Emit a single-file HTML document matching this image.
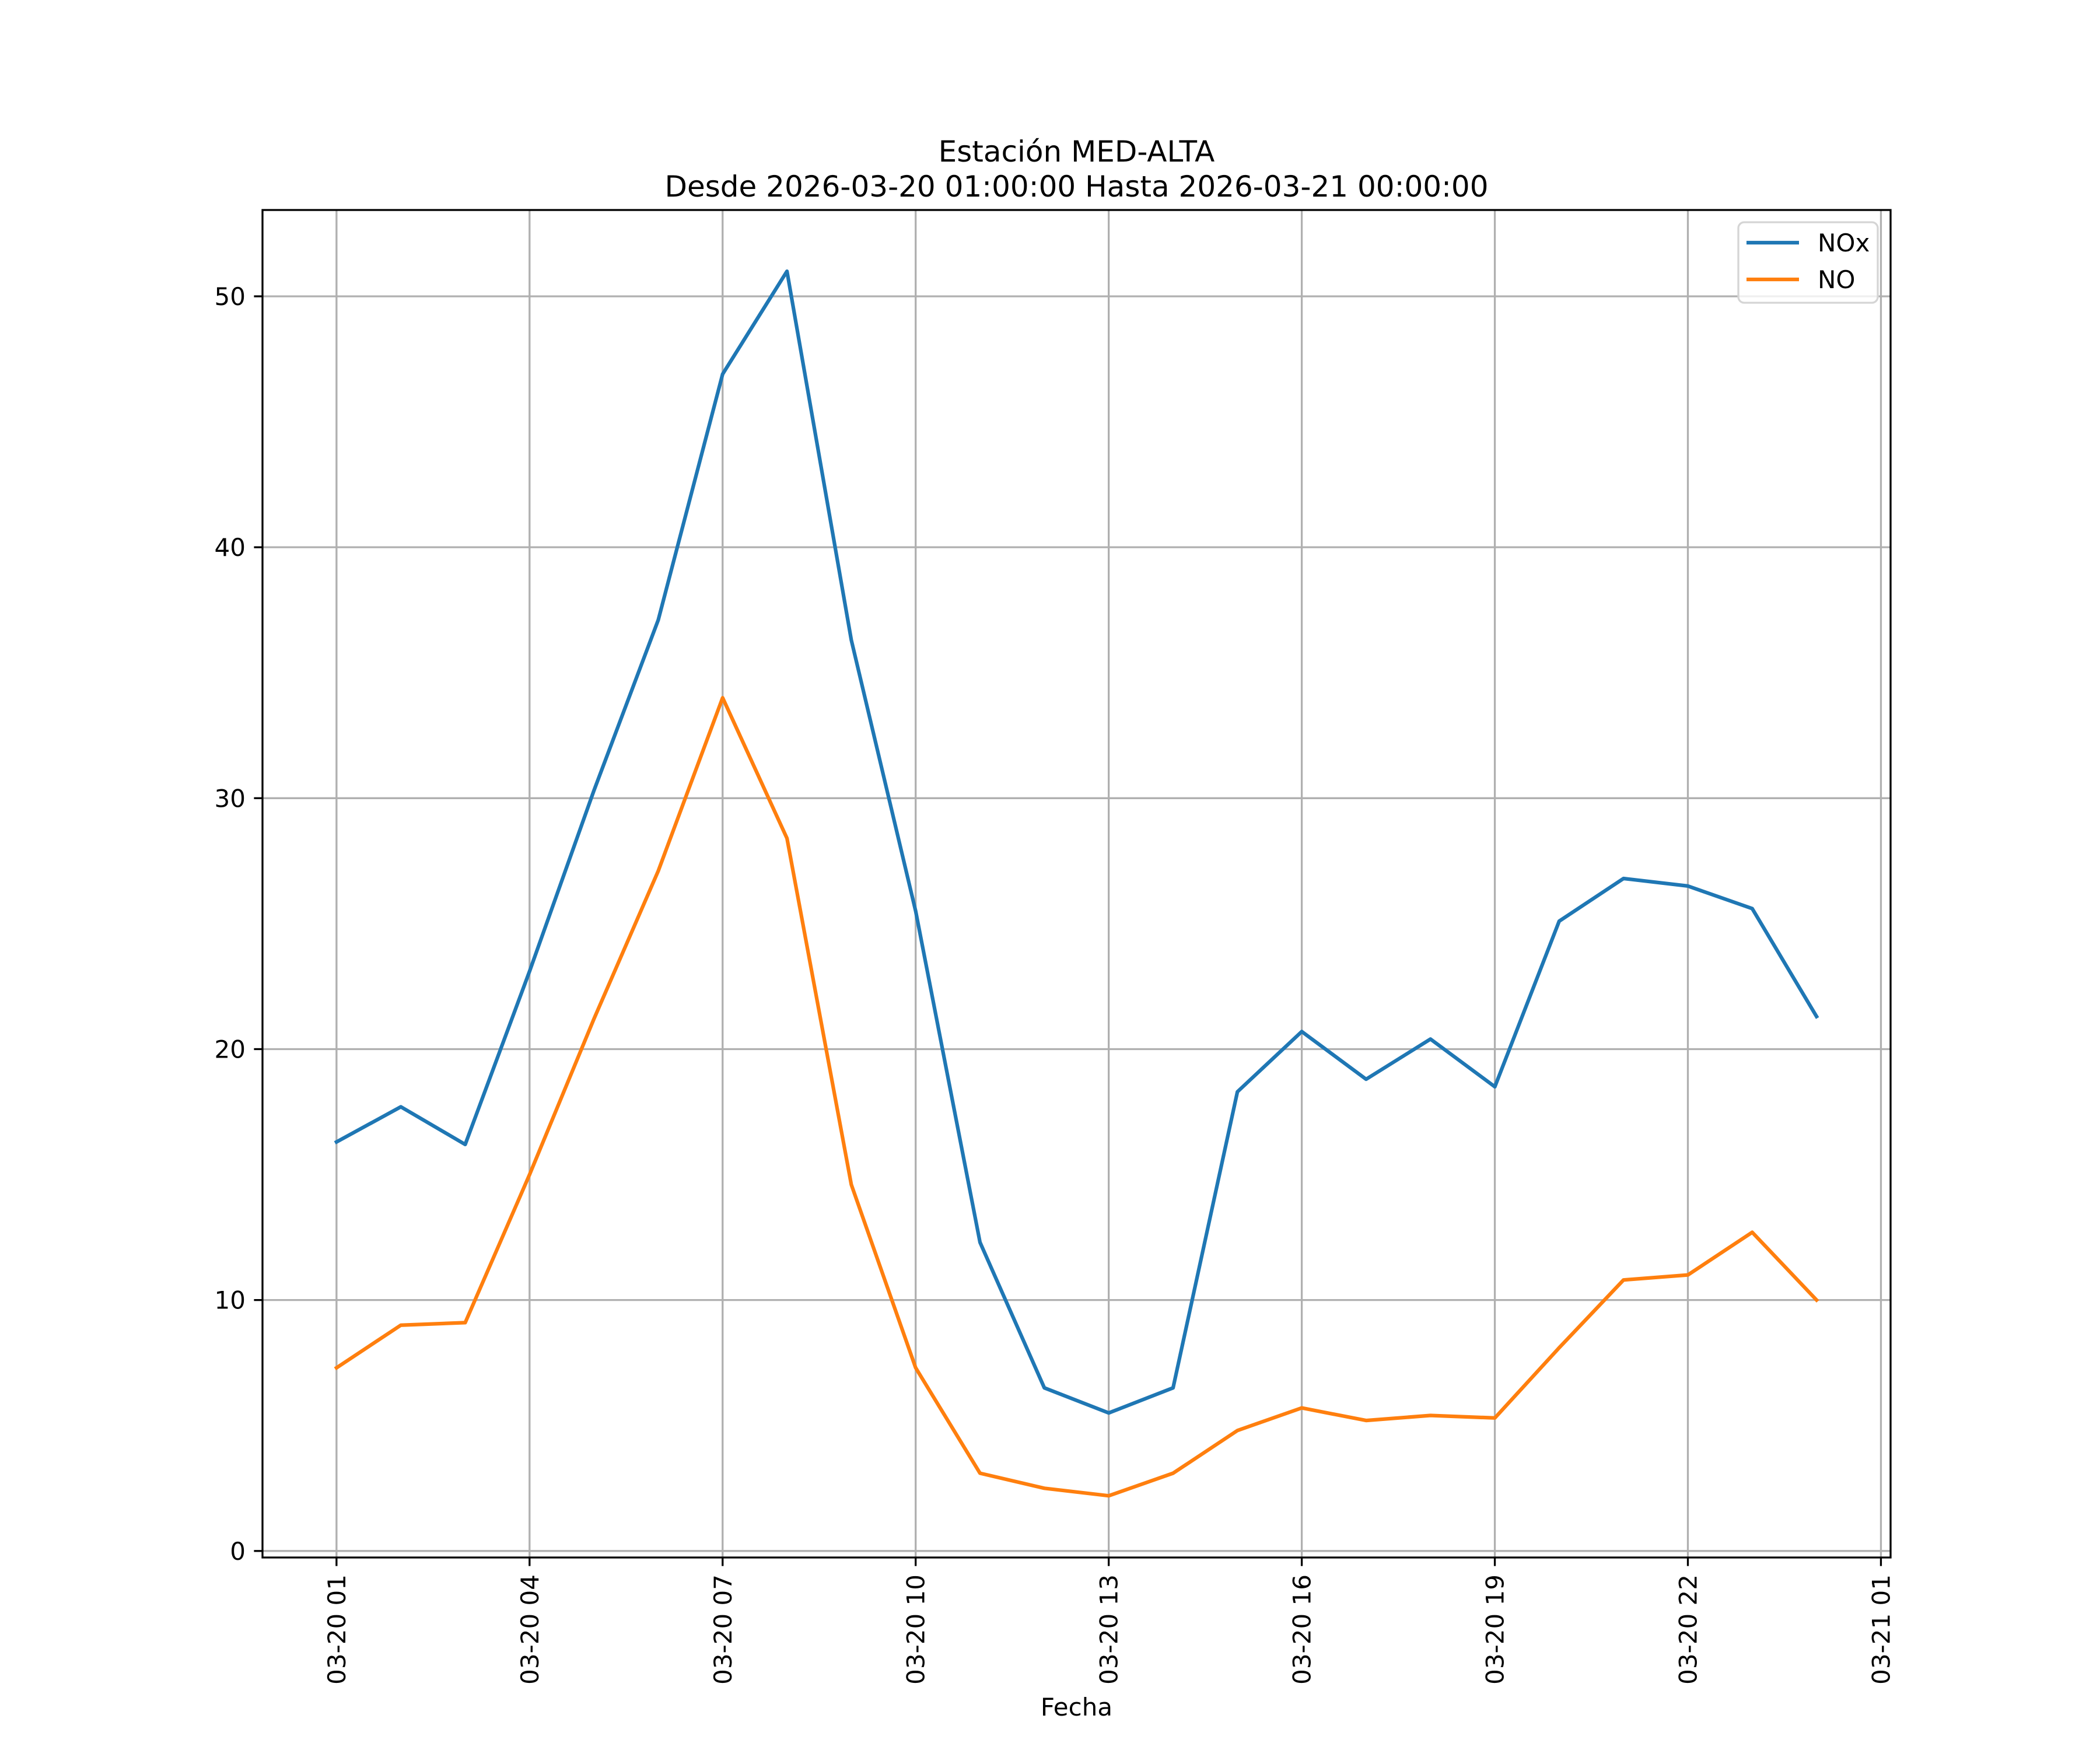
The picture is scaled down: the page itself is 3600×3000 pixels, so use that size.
<!DOCTYPE html>
<html><head><meta charset="utf-8"><style>html,body{margin:0;padding:0;background:#fff}svg{display:block}text{font-family:"DejaVu Sans","Liberation Sans",sans-serif}</style></head>
<body>
<svg id="chart" width="3600" height="3000" viewBox="0 0 3600 3000" xmlns="http://www.w3.org/2000/svg">
<rect width="3600" height="3000" fill="#fff"/>
<text x="1845.5" y="277" font-size="50" text-anchor="middle">Estación MED-ALTA</text>
<text x="1845.5" y="337" font-size="50" text-anchor="middle">Desde 2026-03-20 01:00:00 Hasta 2026-03-21 00:00:00</text>
<g id="grid"></g><g id="series"></g><g id="axes"></g>
<text x="1845.5" y="2941" font-size="42" text-anchor="middle">Fecha</text>
<g>
<rect x="2980" y="381" width="239" height="138" rx="10" fill="#fff" fill-opacity="0.8" stroke="#d5d5d5" stroke-width="3.3"/>
<line x1="2994" y1="416" x2="3084" y2="416" stroke="#1f77b4" stroke-width="6.25"/>
<text x="3116" y="431" font-size="42">NOx</text>
<line x1="2994" y1="479" x2="3084" y2="479" stroke="#ff7f0e" stroke-width="6.25"/>
<text x="3116" y="494" font-size="42">NO</text>
</g>
</svg>
<script>
const hours = [1,2,3,4,5,6,7,8,9,10,11,12,13,14,15,16,17,18,19,20,21,22,23,24];
const noxValues = [16.3,17.7,16.2,23.1,30.3,37.1,46.9,51.0,36.3,25.5,12.3,6.5,5.5,6.5,18.3,20.7,18.8,20.4,18.5,25.1,26.8,26.5,25.6,21.3];
const noValues = [7.3,9.0,9.1,15.0,21.2,27.1,34.0,28.4,14.6,7.3,3.1,2.5,2.2,3.1,4.8,5.7,5.2,5.4,5.3,8.1,10.8,11.0,12.7,10.0];
const yTicks = [0,10,20,30,40,50];
const xTickHours = [1,4,7,10,13,16,19,22,25];
const xTickLabels = ["03-20 01","03-20 04","03-20 07","03-20 10","03-20 13","03-20 16","03-20 19","03-20 22","03-21 01"];

const NS="http://www.w3.org/2000/svg";
const L=450,R=3241,T=360,B=2670;
const xMin=-0.15,xMax=25.15,yMin=-0.26,yMax=53.44;
function sx(h){return L+(h-xMin)/(xMax-xMin)*(R-L);}
function sy(v){return B-(v-yMin)/(yMax-yMin)*(B-T);}
function mk(tag,attrs,parent){const e=document.createElementNS(NS,tag);for(const k in attrs)e.setAttribute(k,attrs[k]);parent.appendChild(e);return e;}
const grid=document.getElementById('grid'),axes=document.getElementById('axes'),series=document.getElementById('series');

yTicks.forEach(v=>{
  const y=sy(v);
  const g=mk('line',{x1:L,x2:R,y1:y,y2:y,stroke:'#b0b0b0','stroke-width':3.3},grid);
  
  
  const t=mk('line',{x1:L-14.6,x2:L,y1:y,y2:y,stroke:'#000','stroke-width':3.3},axes);
  
  
  const lb=mk('text',{x:L-29,y:y+15,'font-size':42,'text-anchor':'end'},axes);
  lb.textContent=v;
  
  
});
xTickHours.forEach((h,i)=>{
  const x=sx(h);
  const g=mk('line',{x1:x,x2:x,y1:T,y2:B,stroke:'#b0b0b0','stroke-width':3.3},grid);
  
  
  const t=mk('line',{x1:x,x2:x,y1:B,y2:B+14.6,stroke:'#000','stroke-width':3.3},axes);
  
  
  const lb=mk('text',{x:0,y:0,'font-size':42,'text-anchor':'end',transform:`translate(${x+15},${B+29}) rotate(-90)`},axes);
  lb.textContent=xTickLabels[i];
  
  
});
const frame=mk('rect',{x:L,y:T,width:R-L,height:B-T,fill:'none',stroke:'#000','stroke-width':3.3},axes);



function drawLine(vals,color,name){
  const pts=hours.map((h,i)=>sx(h).toFixed(1)+','+sy(vals[i]).toFixed(1)).join(' ');
  const p=mk('polyline',{points:pts,fill:'none',stroke:color,'stroke-width':6.25,'stroke-linejoin':'round','stroke-linecap':'square'},series);
  
  
}
drawLine(noxValues,'#1f77b4','nox-line');
drawLine(noValues,'#ff7f0e','no-line');
</script>
</body></html>
